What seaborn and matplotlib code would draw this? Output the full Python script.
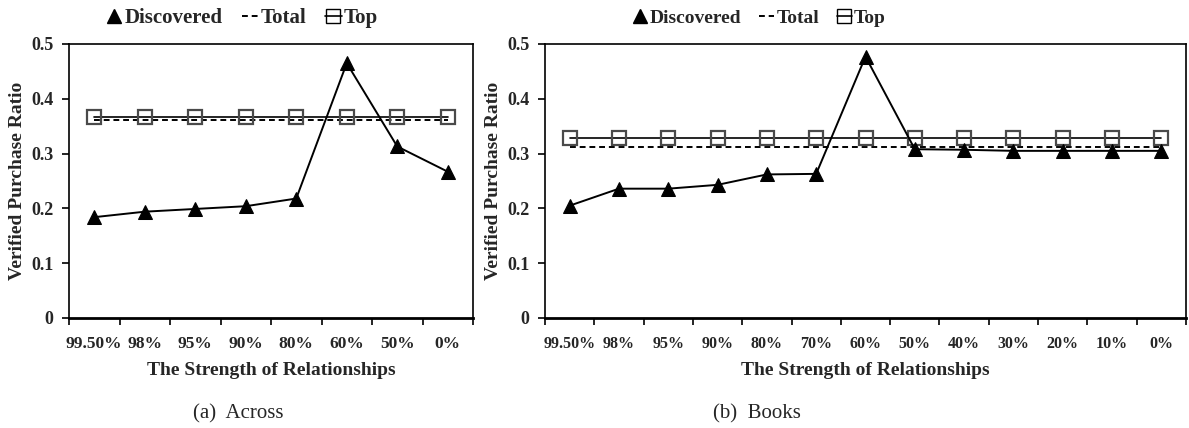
import numpy as np
import pandas as pd
import matplotlib
matplotlib.use("Agg")
import matplotlib.pyplot as plt
from matplotlib.lines import Line2D
import seaborn as sns

# ---- data ----
across_labels = ["99.50%", "98%", "95%", "90%", "80%", "60%", "50%", "0%"]
across_discovered = [0.184, 0.194, 0.199, 0.204, 0.218, 0.465, 0.313, 0.267]
across_total = [0.362] * 8
across_top = [0.366] * 8

books_labels = ["99.50%", "98%", "95%", "90%", "80%", "70%", "60%", "50%",
                "40%", "30%", "20%", "10%", "0%"]
books_discovered = [0.205, 0.236, 0.236, 0.243, 0.262, 0.263, 0.477, 0.308,
                    0.307, 0.305, 0.305, 0.305, 0.305]
books_total = [0.312] * 13
books_top = [0.329] * 13

y_ticks = [0, 0.1, 0.2, 0.3, 0.4, 0.5]
y_tick_labels = ["0", "0.1", "0.2", "0.3", "0.4", "0.5"]

sns.set_theme(style="white")
plt.rcParams['font.family'] = ['Liberation Serif', 'DejaVu Serif']

fig = plt.figure(figsize=(11.89, 4.28), dpi=100)
W, H = 1189, 428

def px_axes(l, t, r, b):
    return fig.add_axes([l / W, 1 - b / H, (r - l) / W, (b - t) / H])

ax1 = px_axes(69, 44, 473, 318)
ax2 = px_axes(545, 44, 1186, 318)

def draw(ax, labels, disc, total, top, ticksize):
    n = len(labels)
    df = pd.DataFrame({"pos": np.arange(n), "disc": disc, "total": total, "top": top})
    sns.lineplot(data=df, x="pos", y="total", ax=ax, color="black", lw=1.4,
                 linestyle=(0, (3, 2)))
    sns.lineplot(data=df, x="pos", y="top", ax=ax, color="black", lw=1.2,
                 marker="s", markersize=9.5, markerfacecolor="none",
                 markeredgecolor="#4a4a4a", markeredgewidth=1.6)
    sns.lineplot(data=df, x="pos", y="disc", ax=ax, color="black", lw=1.4,
                 marker="^", markersize=10, markerfacecolor="black",
                 markeredgecolor="black")
    ax.set_xlim(-0.5, n - 0.5)
    ax.set_ylim(0, 0.5)
    ax.set_xticks(np.arange(n + 1) - 0.5)
    ax.set_xticklabels([])
    ax.set_xticks(np.arange(n), minor=True)
    ax.set_xticklabels(labels, minor=True, fontsize=ticksize, fontweight="bold")
    ax.tick_params(axis="x", which="major", direction="out", length=5, width=1.2,
                   bottom=True, color="black")
    ax.tick_params(axis="x", which="minor", length=0, pad=13)
    ax.set_yticks(y_ticks)
    ax.set_yticklabels(y_tick_labels, fontsize=13, fontweight="bold")
    ax.tick_params(axis="y", direction="out", length=5, width=1.2, left=True,
                   color="black", pad=6)
    for s in ax.spines.values():
        s.set_visible(True)
        s.set_color("black")
        s.set_linewidth(1.2)
    ax.spines["bottom"].set_linewidth(2)
    ax.set_xlabel("The Strength of Relationships", fontsize=14, fontweight="bold",
                  labelpad=7)
    ax.set_ylabel("Verified Purchase Ratio", fontsize=14, fontweight="bold",
                  labelpad=4)
    ax.grid(False)

draw(ax1, across_labels, across_discovered, across_total, across_top, 12.5)
draw(ax2, books_labels, books_discovered, books_total, books_top, 11.5)

handles = [
    Line2D([], [], color="black", marker="^", linestyle="none", markersize=10),
    Line2D([], [], color="black", linestyle=(0, (3, 2)), lw=1.4),
    Line2D([], [], color="black", marker="s", markersize=10, markerfacecolor="none",
           lw=1.2),
]
names = ["Discovered", "Total", "Top"]
for cx, fs in ((242 / W, 15), (759 / W, 14)):
    fig.legend(handles, names, loc="center", bbox_to_anchor=(cx, 1 - 18 / H), ncol=3,
               frameon=False, handlelength=0.8, handletextpad=0.1, columnspacing=0.9,
               prop={"weight": "bold", "size": fs, "family": "Liberation Serif"})

fig.text(238 / W, 1 - 414 / H, "(a)  Across", ha="center", va="center", fontsize=15)
fig.text(757 / W, 1 - 414 / H, "(b)  Books", ha="center", va="center", fontsize=15)

fig.savefig("out.png", dpi=100)
